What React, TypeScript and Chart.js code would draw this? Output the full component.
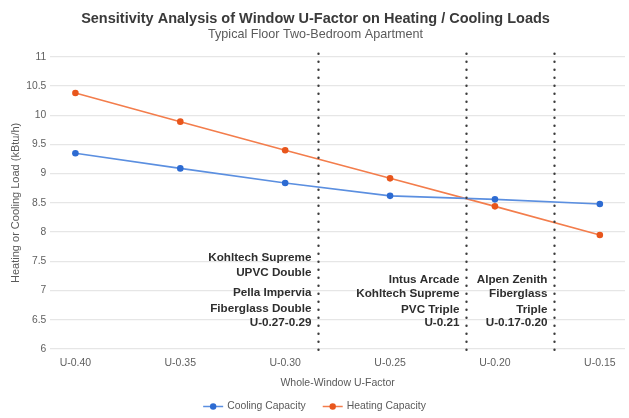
import React, { useEffect, useRef } from "react";
import { Chart, registerables } from "chart.js";

Chart.register(...registerables);

const FONT = "'Liberation Sans', Arial, sans-serif";

const categories = ["U-0.40", "U-0.35", "U-0.30", "U-0.25", "U-0.20", "U-0.15"];
const coolingCapacity = [9.35, 9.09, 8.84, 8.62, 8.56, 8.48];
const heatingCapacity = [10.38, 9.89, 9.4, 8.92, 8.44, 7.95];
const yTicks = [6, 6.5, 7, 7.5, 8, 8.5, 9, 9.5, 10, 10.5, 11];

// marker lines (x in category units) and their labels (y in load units)
const markerPositions = [2.31, 3.72, 4.565];
const markerLabels = [
  [
    { text: "Kohltech Supreme", y: 7.563 },
    { text: "UPVC Double", y: 7.296 },
    { text: "Pella Impervia", y: 6.954 },
    { text: "Fiberglass Double", y: 6.68 },
    { text: "U-0.27-0.29", y: 6.44 },
  ],
  [
    { text: "Intus Arcade", y: 7.18 },
    { text: "Kohltech Supreme", y: 6.937 },
    { text: "PVC Triple", y: 6.668 },
    { text: "U-0.21", y: 6.44 },
  ],
  [
    { text: "Alpen Zenith", y: 7.18 },
    { text: "Fiberglass", y: 6.937 },
    { text: "Triple", y: 6.668 },
    { text: "U-0.17-0.20", y: 6.44 },
  ],
];

const seriesNames = ["Cooling Capacity", "Heating Capacity"];
const lineColors = ["#5b8fe0", "#f37d4c"];
const pointColors = ["#2d6bd2", "#e8561c"];

const markersPlugin = {
  id: "markers",
  afterDatasetsDraw(chart: any) {
    const { ctx, chartArea, scales } = chart;
    const xs = scales.x;
    const ys = scales.y;
    ctx.save();
    markerPositions.forEach((mx, gi) => {
      const px = Math.round(xs.getPixelForValue(mx)) + 0.5;
      ctx.beginPath();
      ctx.strokeStyle = "#3c3c3c";
      ctx.lineWidth = 2.4;
      ctx.lineCap = "round";
      ctx.setLineDash([0, 8]);
      ctx.moveTo(px, chartArea.top - 3);
      ctx.lineTo(px, chartArea.bottom + 5);
      ctx.stroke();
      ctx.setLineDash([]);
      ctx.fillStyle = "#2e2e2e";
      ctx.font = `bold 11.7px ${FONT}`;
      ctx.textAlign = "right";
      ctx.textBaseline = "middle";
      markerLabels[gi].forEach((l) => {
        ctx.fillText(l.text, px - 7, ys.getPixelForValue(l.y));
      });
    });
    ctx.restore();
  },
};

const legendPlugin = {
  id: "customLegend",
  afterDraw(chart: any) {
    const { ctx, width, height } = chart;
    ctx.save();
    ctx.font = `10.4px ${FONT}`;
    const widths = seriesNames.map((n) => ctx.measureText(n).width);
    const markerW = 20;
    const gapText = 4;
    const gapItems = 17;
    const total =
      widths.reduce((a, b) => a + b, 0) + seriesNames.length * (markerW + gapText) + gapItems;
    let x = width / 2 - total / 2;
    const y = height - 11.5;
    seriesNames.forEach((n, i) => {
      ctx.strokeStyle = lineColors[i];
      ctx.lineWidth = 1.5;
      ctx.beginPath();
      ctx.moveTo(x, y);
      ctx.lineTo(x + markerW, y);
      ctx.stroke();
      ctx.fillStyle = pointColors[i];
      ctx.beginPath();
      ctx.arc(x + markerW / 2, y, 3.2, 0, Math.PI * 2);
      ctx.fill();
      ctx.fillStyle = "#5a5a5a";
      ctx.textAlign = "left";
      ctx.textBaseline = "middle";
      ctx.fillText(n, x + markerW + gapText, y);
      x += markerW + gapText + widths[i] + gapItems;
    });
    ctx.restore();
  },
};

export default function App() {
  const ref = useRef<HTMLCanvasElement | null>(null);
  useEffect(() => {
    if (!ref.current) return;
    const datasets = [coolingCapacity, heatingCapacity].map((vals, i) => ({
      label: seriesNames[i],
      data: vals.map((v, idx) => ({ x: idx, y: v })),
      borderColor: lineColors[i],
      backgroundColor: pointColors[i],
      pointBackgroundColor: pointColors[i],
      pointBorderColor: pointColors[i],
      pointRadius: 3.3,
      pointBorderWidth: 0,
      borderWidth: 1.6,
      tension: 0,
      fill: false,
    }));
    const chart = new Chart(ref.current, {
      type: "line",
      data: { datasets },
      plugins: [markersPlugin, legendPlugin],
      options: {
        animation: false,
        responsive: false,
        maintainAspectRatio: false,
        layout: { padding: { left: 3, right: 1, top: 0, bottom: 30.2 } },
        plugins: {
          legend: { display: false },
          tooltip: { enabled: false },
          title: {
            display: true,
            text: "Sensitivity Analysis of Window U-Factor on Heating / Cooling Loads",
            color: "#3a3a3a",
            font: { family: FONT, size: 14.5, weight: "bold" },
            padding: { top: 10, bottom: 0 },
          },
          subtitle: {
            display: true,
            text: "Typical Floor Two-Bedroom Apartment",
            color: "#5a5a5a",
            font: { family: FONT, size: 12.6 },
            padding: { top: 0, bottom: 14.3 },
          },
        },
        scales: {
          x: {
            type: "linear",
            min: -0.24,
            max: 5.24,
            afterBuildTicks: (axis: any) => {
              axis.ticks = categories.map((_, i) => ({ value: i }));
            },
            ticks: {
              color: "#5f5f5f",
              font: { family: FONT, size: 10.5, lineHeight: 1 },
              padding: 9,
              maxRotation: 0,
              autoSkip: false,
              callback: (v: any) => categories[Math.round(v)] ?? "",
            },
            grid: { display: false, drawTicks: false },
            border: { display: false },
            title: {
              display: true,
              text: "Whole-Window U-Factor",
              color: "#5a5a5a",
              font: { family: FONT, size: 10.5, lineHeight: 0.8 },
              padding: { top: 2, bottom: 0 },
            },
          },
          y: {
            min: 6,
            max: 11,
            afterBuildTicks: (axis: any) => {
              axis.ticks = yTicks.map((v) => ({ value: v }));
            },
            ticks: {
              color: "#5f5f5f",
              font: { family: FONT, size: 10.3 },
              padding: 4,
              callback: (v: any) => String(v),
            },
            grid: { color: "#e6e6e6", lineWidth: 1.3, drawTicks: false },
            border: { display: false },
            title: {
              display: true,
              text: "Heating or Cooling Load (kBtu/h)",
              color: "#5a5a5a",
              font: { family: FONT, size: 11 },
              padding: { top: 6, bottom: 0 },
            },
          },
        },
      },
    } as any);
    return () => chart.destroy();
  }, []);
  return (
    <div style={{ position: "absolute", left: 0, top: 0, width: 629, height: 418, background: "#fff" }}>
      <canvas ref={ref} width={629} height={418} style={{ display: "block", width: 629, height: 418 }} />
    </div>
  );
}
